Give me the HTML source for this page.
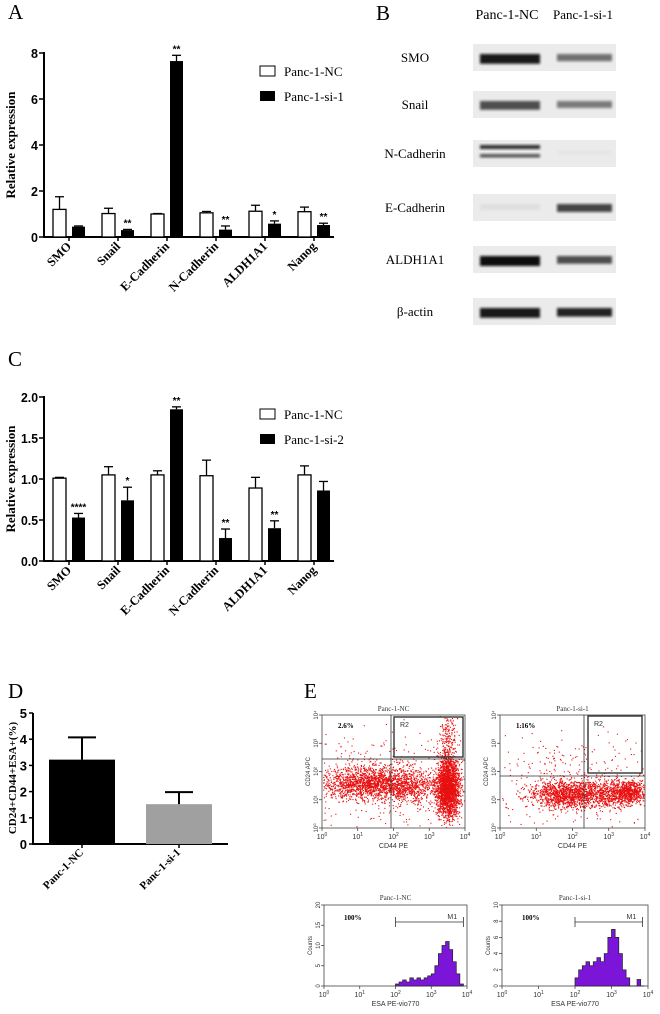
<!DOCTYPE html>
<html><head><meta charset="utf-8"><style>
body{margin:0;background:#fff}
svg{display:block}
.ser{font-family:"Liberation Serif",serif}
.san{font-family:"Liberation Sans",sans-serif}
</style></head><body>
<svg id="fig" width="660" height="1014" viewBox="0 0 660 1014" xmlns="http://www.w3.org/2000/svg">
<g id="gA"></g>
<g id="gB"></g>
<g id="gC"></g>
<g id="gD"></g>
<g id="gE"></g>
</svg>
<script>
const genes=["SMO","Snail","E-Cadherin","N-Cadherin","ALDH1A1","Nanog"];
const aNC=[1.2,1.02,1.0,1.05,1.12,1.1];
const aNCerr=[0.55,0.23,0.02,0.06,0.26,0.2];
const aSi=[0.45,0.3,7.65,0.32,0.58,0.52];
const aSiErr=[0.03,0.03,0.25,0.16,0.12,0.08];
const aStars=["","**","**","**","*","**"];
const aTicks=[0,2,4,6,8];
const cNC=[1.01,1.05,1.05,1.04,0.89,1.05];
const cNCerr=[0.01,0.1,0.05,0.19,0.13,0.11];
const cSi=[0.53,0.74,1.85,0.28,0.40,0.86];
const cSiErr=[0.05,0.16,0.03,0.11,0.09,0.11];
const cStars=["****","*","**","**","**",""];
const cTicks=["0.0","0.5","1.0","1.5","2.0"];
const dCats=["Panc-1-NC","Panc-1-si-1"];
const dVals=[3.22,1.52];
const dErr=[0.85,0.46];
const dTicks=[0,1,2,3,4,5];
const blotRows=["SMO","Snail","N-Cadherin","E-Cadherin","ALDH1A1","β-actin"];
const blotNC=[0.95,0.7,0.85,0.05,1.0,0.95];
const blotSi=[0.55,0.5,0.02,0.75,0.7,0.9];
const histNCbins=[2.0,2.1,2.2,2.3,2.4,2.5,2.6,2.7,2.8,2.9,3.0,3.1,3.2,3.3,3.4,3.5,3.6,3.7,3.8];
const histNCcounts=[0.5,1,1.5,1,2,1.5,2,1.5,2,2.5,3,5,8,10,11,9,6,3,0.5];
const histSibins=[2.0,2.1,2.2,2.3,2.4,2.5,2.6,2.7,2.8,2.9,3.0,3.1,3.2,3.3,3.4,3.5,3.6,3.7,3.8];
const histSiCounts=[1,2,2.5,3,2.5,3,3.5,3,4,6,7,6,4,2,1,0,0,0.8,0];

const NS="http://www.w3.org/2000/svg";
function el(p,t,a,txt){const e=document.createElementNS(NS,t);for(const k in a)e.setAttribute(k,a[k]);if(txt!==undefined)e.textContent=txt;p.appendChild(e);return e;}

function barChart(g,letter,ly,y0,yTop,vmax,ticks,nc,ncE,si,siE,stars,legend2,legY){
  const sy=v=>y0-(y0-yTop)*v/vmax;
  const bx=i=>53+i*49;
  let t=el(g,'text',{x:8,y:ly,'font-size':21,class:'ser'},letter);
  
  el(g,'line',{x1:44,y1:yTop-1,x2:44,y2:y0,stroke:'#000','stroke-width':2});
  el(g,'line',{x1:43,y1:y0,x2:334,y2:y0,stroke:'#000','stroke-width':2});
  ticks.forEach((tk)=>{const v=parseFloat(tk);const y=sy(v);
    el(g,'line',{x1:39,y1:y,x2:44,y2:y,stroke:'#000','stroke-width':1.5});
    const attrs={x:38,y:y+5,'text-anchor':'end','font-size':12.5,'font-weight':'bold',class:'san'};
    if(tk.length>1){attrs.textLength=17;attrs.lengthAdjust='spacingAndGlyphs';}
    const tl=el(g,'text',attrs,tk);
    
  });
  const yt=el(g,'text',{transform:`translate(15,${(y0+yTop)/2}) rotate(-90)`,'text-anchor':'middle','font-size':13,'font-weight':'bold',class:'ser'},'Relative expression');
  
  genes.forEach((gn,i)=>{
    const x=bx(i);
    const r1=el(g,'rect',{x:x,y:sy(nc[i]),width:13,height:y0-sy(nc[i]),fill:'#fff',stroke:'#000','stroke-width':1.3});
    
    el(g,'line',{x1:x+6.5,y1:sy(nc[i]),x2:x+6.5,y2:sy(nc[i]+ncE[i]),stroke:'#000','stroke-width':1.3});
    el(g,'line',{x1:x+2,y1:sy(nc[i]+ncE[i]),x2:x+11,y2:sy(nc[i]+ncE[i]),stroke:'#000','stroke-width':1.3});
    const x2=x+19;
    const r2=el(g,'rect',{x:x2,y:sy(si[i]),width:13,height:y0-sy(si[i]),fill:'#000'});
    
    el(g,'line',{x1:x2+6.5,y1:sy(si[i]),x2:x2+6.5,y2:sy(si[i]+siE[i]),stroke:'#000','stroke-width':1.3});
    el(g,'line',{x1:x2+2,y1:sy(si[i]+siE[i]),x2:x2+11,y2:sy(si[i]+siE[i]),stroke:'#000','stroke-width':1.3});
    if(stars[i]){const s=el(g,'text',{x:x2+6.5,y:sy(si[i]+siE[i])-3,'text-anchor':'middle','font-size':10,'font-weight':'bold',class:'san'},stars[i]);
      }
    const cx=x+16;
    el(g,'line',{x1:cx,y1:y0,x2:cx,y2:y0+4,stroke:'#000','stroke-width':1.5});
    const xl=el(g,'text',{transform:`translate(${cx+3},${y0+10}) rotate(-45)`,'text-anchor':'end','font-size':12.5,'font-weight':'bold',class:'ser'},gn);
    
  });
  const l1=el(g,'rect',{x:260,y:legY-5,width:15,height:10,fill:'#fff',stroke:'#000','stroke-width':1});
  
  let lt=el(g,'text',{x:284,y:legY+5,'font-size':13,class:'ser'},'Panc-1-NC');
  
  const l2=el(g,'rect',{x:260,y:legY+20,width:15,height:10,fill:'#000'});
  
  lt=el(g,'text',{x:284,y:legY+30,'font-size':13,class:'ser'},legend2);
  
}
barChart(document.getElementById('gA'),'A',19,237,53,8,aTicks.map(String),aNC,aNCerr,aSi,aSiErr,aStars,'Panc-1-si-1',71);
barChart(document.getElementById('gC'),'C',366,561,397,2,cTicks,cNC,cNCerr,cSi,cSiErr,cStars,'Panc-1-si-2',414);

// Panel B
(function(){
  const g=document.getElementById('gB');
  let t=el(g,'text',{x:376,y:20,'font-size':21,class:'ser'},'B');
  t=el(g,'text',{x:507,y:19,'text-anchor':'middle','font-size':14,class:'ser'},'Panc-1-NC');
  t=el(g,'text',{x:583,y:19,'text-anchor':'middle','font-size':13,class:'ser'},'Panc-1-si-1');
  const defs=el(g,'defs',{});
  const f=el(defs,'filter',{id:'blur',x:'-20%',y:'-50%',width:'140%',height:'200%'});
  el(f,'feGaussianBlur',{stdDeviation:'1.3'});
  const rowsY=[57,104,153,207,259,311];
  blotRows.forEach((r,i)=>{
    const y=rowsY[i];
    const lb=el(g,'text',{x:415,y:y+5,'text-anchor':'middle','font-size':13,class:'ser'},r);
    
    const bg=el(g,'rect',{x:473,y:y-13,width:143,height:27,fill:'#ebebeb'});
    
    const a1=blotNC[i],a2=blotSi[i];
    if(i==2){
      el(g,'rect',{x:480,y:y-8,width:60,height:4,fill:'#111',opacity:a1,filter:'url(#blur)'});
      el(g,'rect',{x:480,y:y+1,width:60,height:3.5,fill:'#111',opacity:a1*0.8,filter:'url(#blur)'});
    } else {
      el(g,'rect',{x:480,y:y-3,width:60,height:6+a1*4,fill:'#111',opacity:a1,filter:'url(#blur)'});
    }
    el(g,'rect',{x:557,y:y-3,width:55,height:5+a2*4,fill:'#111',opacity:a2,filter:'url(#blur)'});
  });
})();

// Panel D
(function(){
  const g=document.getElementById('gD');
  const y0=844,yT=713;const sy=v=>y0-(y0-yT)*v/5;
  let t=el(g,'text',{x:8,y:698,'font-size':21,class:'ser'},'D');
  el(g,'line',{x1:33,y1:yT,x2:33,y2:y0,stroke:'#000','stroke-width':2});
  el(g,'line',{x1:32,y1:y0,x2:228,y2:y0,stroke:'#000','stroke-width':2});
  dTicks.forEach(v=>{const y=sy(v);el(g,'line',{x1:29,y1:y,x2:33,y2:y,stroke:'#000','stroke-width':1.5});
    const l=el(g,'text',{x:27,y:y+5,'text-anchor':'end','font-size':13,'font-weight':'bold',class:'san'},String(v));
    });
  t=el(g,'text',{transform:'translate(16,778) rotate(-90)','text-anchor':'middle','font-size':11,'font-weight':'bold',class:'ser'},'CD24+CD44+ESA+(%)');
  
  const fills=['#000','#a0a0a0'];
  dCats.forEach((c,i)=>{
    const x=49+i*97,w=66;
    const b=el(g,'rect',{x:x,y:sy(dVals[i]),width:w,height:y0-sy(dVals[i]),fill:fills[i]});
    
    el(g,'line',{x1:x+w/2,y1:sy(dVals[i]),x2:x+w/2,y2:sy(dVals[i]+dErr[i]),stroke:'#000','stroke-width':2});
    el(g,'line',{x1:x+w/2-14,y1:sy(dVals[i]+dErr[i]),x2:x+w/2+14,y2:sy(dVals[i]+dErr[i]),stroke:'#000','stroke-width':2});
    el(g,'line',{x1:x+w/2,y1:y0,x2:x+w/2,y2:y0+4,stroke:'#000','stroke-width':1.5});
    const l=el(g,'text',{transform:`translate(${x+w/2+2},${y0+9}) rotate(-45)`,'text-anchor':'end','font-size':11,'font-weight':'bold',class:'ser'},c);
    
  });
})();

// Panel E
(function(){
  const g=document.getElementById('gE');
  let t=el(g,'text',{x:304,y:698,'font-size':21,class:'ser'},'E');
  let seed=7;const rnd=()=>{seed=(seed*16807)%2147483647;return seed/2147483647;};
  const gauss=()=>{let s=0;for(let k=0;k<4;k++)s+=rnd();return (s-2)/0.58;};
  function logAxis(x0,x1,yb,label){
    for(let k=0;k<=4;k++){const x=x0+(x1-x0)*k/4;
      el(g,'line',{x1:x,y1:yb,x2:x,y2:yb+3,stroke:'#333','stroke-width':0.7});
      const l=el(g,'text',{x:x,y:yb+11,'text-anchor':'middle','font-size':7,class:'san',fill:'#333'},'10');
      el(l,'tspan',{dy:-3,'font-size':5},String(k));
      }
    const xl=el(g,'text',{x:(x0+x1)/2,y:yb+20,'text-anchor':'middle','font-size':7,class:'san',fill:'#333'},label);
    
  }
  function scatter(x0,x1,y0,y1,title,pct,vx,hy,r2,clusters){
    const tt=el(g,'text',{x:(x0+x1)/2,y:y0-4,'text-anchor':'middle','font-size':7,class:'ser',fill:'#333'},title);
    
    const fr=el(g,'rect',{x:x0,y:y0,width:x1-x0,height:y1-y0,fill:'#fff',stroke:'#444','stroke-width':0.8});
    
    const pts=el(g,'g',{fill:'#e81010'});
    
    const W=x1-x0,H=y1-y0;
    clusters.forEach(c=>{for(let n=0;n<c[4];n++){
      const x=x0+W*(c[0]+c[2]*gauss()),y=y0+H*(c[1]+c[3]*gauss());
      if(x>x0+1&&x<x1-1&&y>y0+1&&y<y1-1)el(pts,'rect',{x:x,y:y,width:1.1,height:1.1});}});
    el(g,'line',{x1:vx,y1:y0,x2:vx,y2:y1,stroke:'#333','stroke-width':0.8});
    el(g,'line',{x1:x0,y1:hy,x2:x1,y2:hy,stroke:'#333','stroke-width':0.8});
    el(g,'rect',{x:r2[0],y:r2[1],width:r2[2],height:r2[3],fill:'none',stroke:'#333','stroke-width':1.4});
    el(g,'text',{x:r2[0]+6,y:r2[1]+10,'font-size':7,class:'san',fill:'#333'},'R2');
    const p=el(g,'text',{x:x0+16,y:y0+13,'font-size':7,'font-weight':'bold',class:'ser'},pct);
    
    for(let k=0;k<=4;k++){const y=y1-H*k/4;el(g,'line',{x1:x0-3,y1:y,x2:x0,y2:y,stroke:'#333','stroke-width':0.7});
      el(g,'text',{transform:`translate(${x0-4},${y}) rotate(-90)`,'text-anchor':'middle','font-size':6,class:'san',fill:'#333'},'10'+['⁰','¹','²','³','⁴'][k]);}
    const yl=el(g,'text',{transform:`translate(${x0-12},${(y0+y1)/2}) rotate(-90)`,'text-anchor':'middle','font-size':6,class:'san',fill:'#333'},'CD24 APC');
    
    logAxis(x0,x1,y1,'CD44 PE');
  }
  scatter(322,465,715,828,'Panc-1-NC','2.6%',391,759,[394,717,69,40],
    [[0.3,0.6,0.15,0.07,1400],[0.6,0.62,0.12,0.07,700],[0.88,0.65,0.04,0.13,2200],[0.88,0.3,0.03,0.2,300],[0.5,0.6,0.3,0.2,500]]);
  scatter(500,645,715,828,'Panc-1-si-1','1.16%',584,776,[588,716,54,57],
    [[0.45,0.7,0.12,0.06,1200],[0.75,0.7,0.1,0.06,700],[0.9,0.68,0.05,0.05,500],[0.5,0.6,0.3,0.2,400]]);

  function hist(x0,x1,y0,y1,title,bins,counts,ymax,m1,ticks){
    const tt=el(g,'text',{x:(x0+x1)/2,y:y0-5,'text-anchor':'middle','font-size':7,class:'ser',fill:'#333'},title);
    
    const fr=el(g,'rect',{x:x0,y:y0,width:x1-x0,height:y1-y0,fill:'#fff',stroke:'#444','stroke-width':0.8});
    
    const sx=v=>x0+(x1-x0)*v/4,sy=c=>y1-(y1-y0)*c/ymax;
    let d=`M${sx(bins[0])},${y1}`;
    bins.forEach((b,i)=>{d+=` L${sx(b)},${sy(counts[i])} L${sx(b+0.1)},${sy(counts[i])}`;});
    d+=` L${sx(bins[bins.length-1]+0.1)},${y1} Z`;
    const h=el(g,'path',{d:d,fill:'#7b16d8',stroke:'#222','stroke-width':0.7});
    
    el(g,'line',{x1:sx(m1[0]),y1:y0+17,x2:sx(m1[1]),y2:y0+17,stroke:'#333','stroke-width':0.8});
    el(g,'line',{x1:sx(m1[0]),y1:y0+12,x2:sx(m1[0]),y2:y0+22,stroke:'#333','stroke-width':0.8});
    el(g,'line',{x1:sx(m1[1]),y1:y0+12,x2:sx(m1[1]),y2:y0+22,stroke:'#333','stroke-width':0.8});
    el(g,'text',{x:sx(m1[1])-16,y:y0+14,'font-size':7,class:'san',fill:'#333'},'M1');
    const p=el(g,'text',{x:x0+20,y:y0+15,'font-size':7,'font-weight':'bold',class:'ser'},'100%');
    
    ticks.forEach(tk=>{const y=sy(tk);el(g,'line',{x1:x0-3,y1:y,x2:x0,y2:y,stroke:'#333','stroke-width':0.7});
      el(g,'text',{transform:`translate(${x0-4},${y}) rotate(-90)`,'text-anchor':'middle','font-size':6,class:'san',fill:'#333'},String(tk));});
    const yl=el(g,'text',{transform:`translate(${x0-12},${(y0+y1)/2}) rotate(-90)`,'text-anchor':'middle','font-size':6,class:'san',fill:'#333'},'Counts');
    
    logAxis(x0,x1,y1,'ESA PE-vio770');
  }
  hist(324,467,905,986,'Panc-1-NC',histNCbins,histNCcounts,20,[2.0,3.9],[0,5,10,15,20]);
  hist(502,648,905,986,'Panc-1-si-1',histSibins,histSiCounts,10,[2.0,3.85],[0,2,4,6,8,10]);
})();
</script>
</body></html>
